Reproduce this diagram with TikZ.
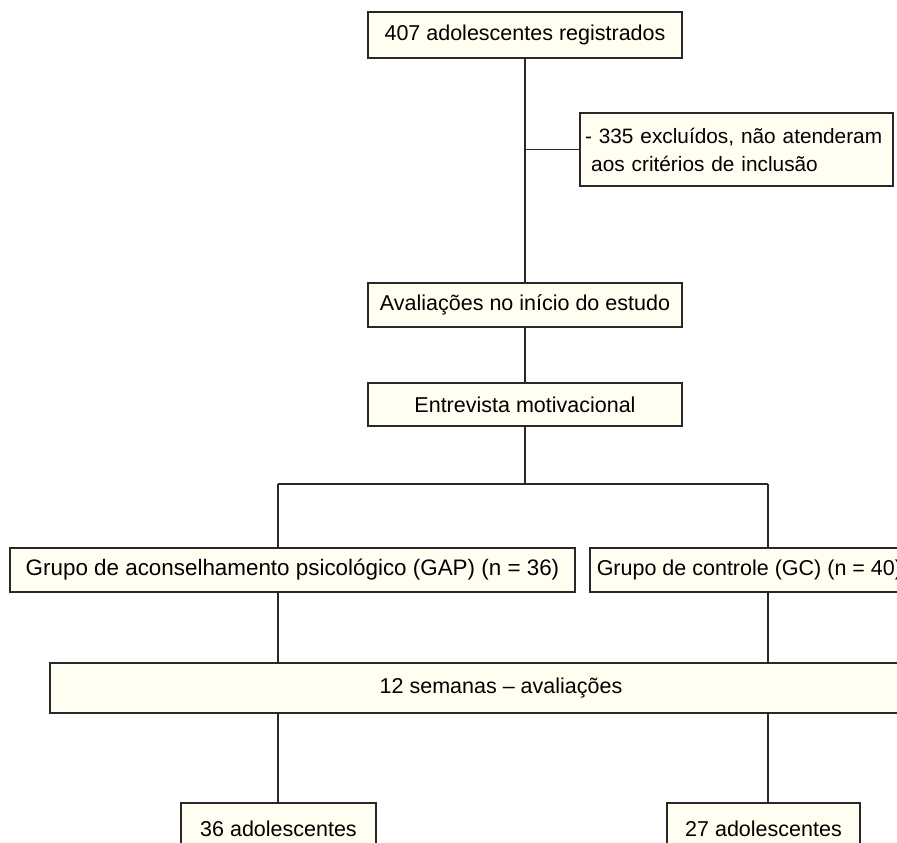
\documentclass[tikz,border=0pt]{standalone}
\usepackage{fontspec}
\setmainfont{Liberation Sans}
\definecolor{boxfill}{RGB}{255,254,240}
\definecolor{edge}{RGB}{40,40,40}
\tikzset{
  flowbox/.style={draw=edge, fill=boxfill, line width=1.5pt, inner sep=0pt, font=\fontsize{21.5}{28}\selectfont, align=center},
  link/.style={draw=edge, line width=1.5pt}
}
\begin{document}
\begin{tikzpicture}[x=1pt,y=-1pt]
\useasboundingbox (0,0) rectangle (897,843);
\clip (0,0) rectangle (897,843);
\node[flowbox, minimum width=314pt, minimum height=46pt] (b1) at (525,35) {407 adolescentes registrados};
\node[flowbox, minimum width=313pt, minimum height=73pt, text width=303pt, align=left, font=\fontsize{20.8}{28}\selectfont] (ex) at (736.5,149.5) {- 335 excluídos, não atenderam\\\hspace*{0.3em}aos critérios de inclusão};
\node[flowbox, minimum width=314pt, minimum height=44pt] (b2) at (525,305) {Avaliações no início do estudo};
\node[flowbox, minimum width=314pt, minimum height=43pt] (b3) at (525,404.5) {Entrevista motivacional};
\node[flowbox, minimum width=565pt, minimum height=44pt, font=\fontsize{22.4}{28}\selectfont] (gap) at (292.5,570) {Grupo de aconselhamento psicológico (GAP) (n = 36)};
\node[flowbox, anchor=west, minimum height=44pt, inner xsep=7pt] (gc) at (589,570) {Grupo de controle (GC) (n = 40)\hspace*{12pt}};
\node[flowbox, minimum width=902pt, minimum height=50pt] (sem) at (501,688) {12 semanas -- avaliações};
\node[flowbox, minimum width=195pt, minimum height=52pt] (a36) at (278.5,829) {36 adolescentes};
\node[flowbox, minimum width=193pt, minimum height=52pt] (a27) at (763.5,829) {27 adolescentes};
\coordinate (L) at (278,0);
\coordinate (R) at (768,0);
\coordinate (split) at (525,484);
\draw[link] (b1) -- (b2);
\draw[link] (b1.south |- ex.west) -- (ex.west);
\draw[link] (b2) -- (b3);
\draw[link] (b3.south) -- (split);
\draw[link] (L |- split) -- (R |- split);
\draw[link] (L |- split) -- (gap.north -| L);
\draw[link] (R |- split) -- (gc.north -| R);
\draw[link] (gap.south -| L) -- (sem.north -| L);
\draw[link] (gc.south -| R) -- (sem.north -| R);
\draw[link] (sem.south -| L) -- (a36.north -| L);
\draw[link] (sem.south -| R) -- (a27.north -| R);
\end{tikzpicture}
\end{document}
